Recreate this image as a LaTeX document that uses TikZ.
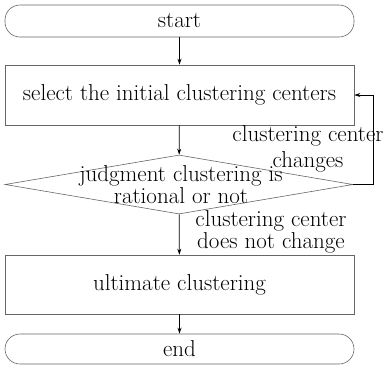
\documentclass[tikz,border=0pt]{standalone}
\usepackage{tikz}
\usetikzlibrary{arrows.meta,calc,shapes.geometric,positioning}

\tikzset{
  box/.style={draw=black!60, line width=0.6pt, minimum width=349pt, inner sep=0pt},
  terminal/.style={box, rounded corners=15pt},
  process/.style={box, minimum height=60pt},
  decision/.style={draw=black!60, line width=0.6pt, diamond, inner sep=0pt,
    minimum width=348pt, minimum height=59pt},
  flow/.style={-{Stealth[length=6pt,width=4pt]}, line width=0.7pt},
  note/.style={align=center, anchor=base, inner sep=0pt}
}

\begin{document}
\begin{tikzpicture}[x=1pt,y=-1pt,font=\fontsize{23}{20}\selectfont]
\useasboundingbox (0,0) rectangle (387,365);

\node[terminal, minimum height=32pt] (start) at (179.5,21) {start};
\node[process] (select) at (179.5,95) {select the initial clustering centers};
\node[decision] (judge) at (179,184.5) {};
\node[note] (judgetext) at (181,203) {judgment clustering is\\rational or not};
\node[process, minimum height=59pt] (ultimate) at (179.5,284.5) {ultimate clustering};
\node[terminal, minimum height=30pt] (end) at (179.5,349) {end};

\draw[flow] (start) -- (select);
\draw[flow] (select) -- (judge);
\draw[flow] (judge) -- (ultimate);
\draw[flow] (ultimate) -- (end);
\draw[flow] (judge.east) -- ++(20,0) |- (select.east);

\node[note] (chg) at (308,167) {clustering center\\[4pt]changes};
\node[note] (nochg) at (271,248) {clustering center\\does not change};
\end{tikzpicture}
\end{document}
